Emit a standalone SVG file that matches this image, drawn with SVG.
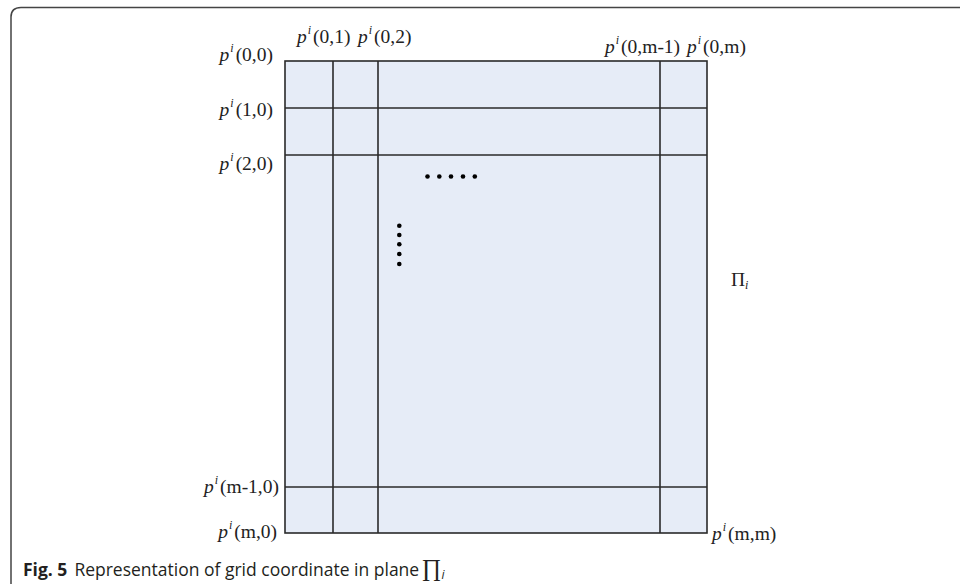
<svg xmlns="http://www.w3.org/2000/svg" width="960" height="584" viewBox="0 0 960 584">
<style>
.lbl{font-family:"Liberation Serif","Times New Roman",serif;font-size:19.5px;fill:#222}
.it{font-style:italic}
.sup{font-style:italic;font-size:12px}
.grid{stroke:#2a2a2a;stroke-width:1.6;fill:none}
.cap{font-family:"Open Sans","Liberation Sans",sans-serif;font-size:17.5px;fill:#231f20}
.dot{fill:#000}
</style>
<rect width="960" height="584" fill="#fff"/>
<path d="M11,584 V17 Q11,7.5 21,7.5 H960" fill="none" stroke="#444" stroke-width="1.5"/>
<g id="plane">
<rect x="285" y="61" width="422" height="472" fill="#e6ecf7"/>
</g>
<g id="connectors">
<rect class="grid" x="285" y="61" width="422" height="472"/>
<line class="grid" x1="333" y1="61" x2="333" y2="533"/>
<line class="grid" x1="378" y1="61" x2="378" y2="533"/>
<line class="grid" x1="660" y1="61" x2="660" y2="533"/>
<line class="grid" x1="285" y1="108" x2="707" y2="108"/>
<line class="grid" x1="285" y1="155" x2="707" y2="155"/>
<line class="grid" x1="285" y1="487" x2="707" y2="487"/>
</g>
<g id="dots">
<circle class="dot" cx="427.5" cy="176.5" r="2.3"/>
<circle class="dot" cx="439.3" cy="176.5" r="2.3"/>
<circle class="dot" cx="451" cy="176.5" r="2.3"/>
<circle class="dot" cx="463" cy="176.5" r="2.3"/>
<circle class="dot" cx="474.8" cy="176.5" r="2.3"/>
<circle class="dot" cx="399.3" cy="225.7" r="2.3"/>
<circle class="dot" cx="399.3" cy="235" r="2.3"/>
<circle class="dot" cx="399.3" cy="244.3" r="2.3"/>
<circle class="dot" cx="399.3" cy="254" r="2.3"/>
<circle class="dot" cx="399.3" cy="264" r="2.3"/>
</g>
<g id="label-00"><text class="lbl" x="273" y="61" text-anchor="end"><tspan class="it">p</tspan><tspan class="sup" dy="-9" dx="1">i</tspan><tspan dy="9" dx="2">(0,0)</tspan></text></g>
<g id="label-01"><text class="lbl" x="297" y="43"><tspan class="it">p</tspan><tspan class="sup" dy="-9" dx="1">i</tspan><tspan dy="9" dx="2">(0,1)</tspan></text></g>
<g id="label-02"><text class="lbl" x="358" y="43"><tspan class="it">p</tspan><tspan class="sup" dy="-9" dx="1">i</tspan><tspan dy="9" dx="2">(0,2)</tspan></text></g>
<g id="label-0m1"><text class="lbl" x="605" y="53"><tspan class="it">p</tspan><tspan class="sup" dy="-9" dx="1">i</tspan><tspan dy="9" dx="2">(0,m-1)</tspan></text></g>
<g id="label-0m"><text class="lbl" x="687" y="53"><tspan class="it">p</tspan><tspan class="sup" dy="-9" dx="1">i</tspan><tspan dy="9" dx="2">(0,m)</tspan></text></g>
<g id="label-10"><text class="lbl" x="273" y="116" text-anchor="end"><tspan class="it">p</tspan><tspan class="sup" dy="-9" dx="1">i</tspan><tspan dy="9" dx="2">(1,0)</tspan></text></g>
<g id="label-20"><text class="lbl" x="273" y="170" text-anchor="end"><tspan class="it">p</tspan><tspan class="sup" dy="-9" dx="1">i</tspan><tspan dy="9" dx="2">(2,0)</tspan></text></g>
<g id="label-m10"><text class="lbl" x="279" y="493" text-anchor="end"><tspan class="it">p</tspan><tspan class="sup" dy="-9" dx="1">i</tspan><tspan dy="9" dx="2">(m-1,0)</tspan></text></g>
<g id="label-m0"><text class="lbl" x="277" y="538" text-anchor="end"><tspan class="it">p</tspan><tspan class="sup" dy="-9" dx="1">i</tspan><tspan dy="9" dx="2">(m,0)</tspan></text></g>
<g id="label-mm"><text class="lbl" x="712" y="540"><tspan class="it">p</tspan><tspan class="sup" dy="-9" dx="1">i</tspan><tspan dy="9" dx="2">(m,m)</tspan></text></g>
<g id="label-pi"><text class="lbl" x="731" y="286" font-size="20">Π<tspan class="sup" font-size="9.5" dy="3">i</tspan></text></g>
<g id="caption"><text class="cap" x="23" y="576"><tspan font-weight="bold">Fig. 5</tspan><tspan dx="7">Representation of grid coordinate in plane </tspan><tspan font-family="Liberation Serif,serif" font-size="24" dx="-2">∏</tspan><tspan font-style="italic" font-size="12" dy="3">i</tspan></text></g>
</svg>
